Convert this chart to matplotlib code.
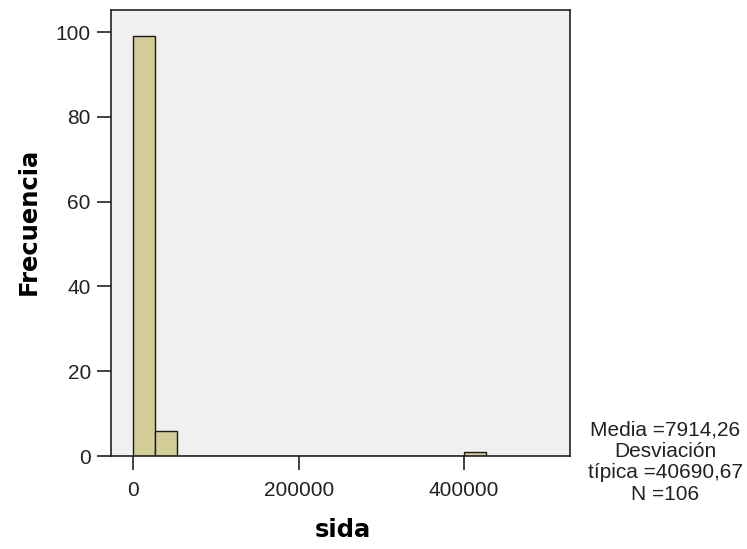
import numpy as np
import matplotlib.pyplot as plt

# histogram of "sida": counts per bin, bins of equal width starting at 0
counts = [99, 6, 0, 0, 0, 0, 0, 0, 0, 0, 0, 0, 0, 0, 0, 1]
bin_width = 400000 / 15
xticks = [0, 200000, 400000]
yticks = [0, 20, 40, 60, 80, 100]
stats = ["Media =7914,26", "Desviación", "típica =40690,67", "N =106"]

plt.rcParams['font.family'] = ['Liberation Sans', 'DejaVu Sans']

fig = plt.figure(figsize=(7.47, 5.49), dpi=100)
ax = fig.add_axes([111/747, 93/549, 459/747, 446/549])
ax.set_facecolor('#f0f0f0')

left = np.arange(len(counts)) * bin_width
ax.bar(left, counts, width=bin_width, align='edge', color='#d3ce97',
       edgecolor='#1a1a1a', linewidth=1.0, zorder=2)

ax.set_xlim(-27000, 528000)
ax.set_ylim(0, 105.2)
ax.set_xticks(xticks)
ax.set_yticks(yticks)
ax.set_xticklabels([str(t) for t in xticks])

for s in ax.spines.values():
    s.set_color('#222222')
    s.set_linewidth(1.2)
ax.tick_params(direction='out', length=10, width=1.2, color='#222222',
               labelsize=15, labelcolor='#222222', pad=4.5)
ax.tick_params(axis='x', pad=8)

ax.set_ylabel('Frecuencia', family='DejaVu Sans', fontweight='bold',
              fontsize=17.5, va='center')
ax.yaxis.set_label_coords((28.5 - 111) / 459, 0.525)
ax.set_xlabel('sida', family='DejaVu Sans', fontweight='bold',
              fontsize=17.5, va='center')
ax.xaxis.set_label_coords(0.505, (456 - 530) / 446)

fig.text(665/747, 1 - 462/549, "\n".join(stats), ha='center', va='center',
         fontsize=15, color='#222222', linespacing=1.17)

plt.savefig('out.png', dpi=100)
